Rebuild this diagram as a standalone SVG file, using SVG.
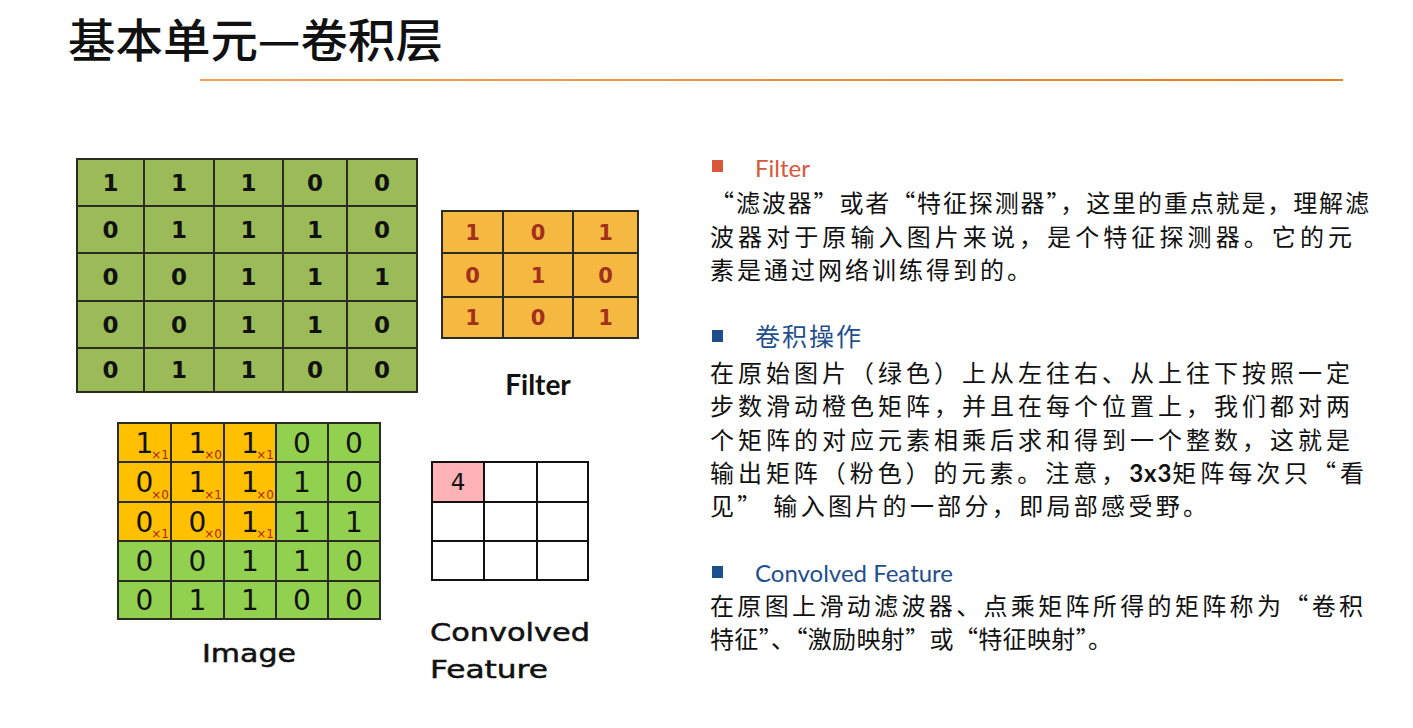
<svg xmlns="http://www.w3.org/2000/svg" width="1413" height="728" viewBox="0 0 1413 728">
<defs>
<linearGradient id="lg" gradientUnits="userSpaceOnUse" x1="200" y1="0" x2="1343" y2="0">
<stop offset="0" stop-color="#f0a35e"/>
<stop offset="1" stop-color="#ec7a1c"/>
</linearGradient>
</defs>
<style>
.cjk{font-family:"Noto Sans CJK SC","Noto Sans",sans-serif;fill:#111;}
.body{font-size:24px;letter-spacing:3px;}
.hdr{font-family:Lato,"Noto Sans CJK SC",sans-serif;font-size:24px;}
.gl{fill:none;stroke:#2b2b22;stroke-width:2;}
.d1{font-family:"DejaVu Sans",sans-serif;font-weight:bold;font-size:23px;fill:#111;text-anchor:middle;}
.d2{font-family:"DejaVu Sans",sans-serif;font-weight:bold;font-size:21px;fill:#a3301c;text-anchor:middle;}
.d3{font-family:"DejaVu Sans",sans-serif;font-size:28px;fill:#111;text-anchor:middle;}
.sub{font-family:"DejaVu Sans",sans-serif;font-size:12px;fill:#b0201a;text-anchor:end;}
.lbl{font-family:"DejaVu Sans",sans-serif;font-size:25px;fill:#111;stroke:#111;stroke-width:0.5;}
</style>
<rect width="1413" height="728" fill="#ffffff"/>

<g id="title">
<text class="cjk" x="68" y="57" font-size="46" font-weight="500" textLength="375" lengthAdjust="spacingAndGlyphs">基本单元—卷积层</text>
<rect x="200" y="79" width="1143" height="2" fill="url(#lg)"/>
</g>

<g id="image-grid">
<rect x="77" y="159" width="340" height="233" fill="#9bbb59"/>
<path class="gl" d="M77 159H417V392H77Z M144 159V392 M214 159V392 M283 159V392 M347 159V392 M77 206H417 M77 253H417 M77 301H417 M77 348H417"/>
<text class="d1" x="110.5" y="191">1</text><text class="d1" x="179" y="191">1</text><text class="d1" x="248.5" y="191">1</text><text class="d1" x="315" y="191">0</text><text class="d1" x="382" y="191">0</text>
<text class="d1" x="110.5" y="238">0</text><text class="d1" x="179" y="238">1</text><text class="d1" x="248.5" y="238">1</text><text class="d1" x="315" y="238">1</text><text class="d1" x="382" y="238">0</text>
<text class="d1" x="110.5" y="285">0</text><text class="d1" x="179" y="285">0</text><text class="d1" x="248.5" y="285">1</text><text class="d1" x="315" y="285">1</text><text class="d1" x="382" y="285">1</text>
<text class="d1" x="110.5" y="333">0</text><text class="d1" x="179" y="333">0</text><text class="d1" x="248.5" y="333">1</text><text class="d1" x="315" y="333">1</text><text class="d1" x="382" y="333">0</text>
<text class="d1" x="110.5" y="378">0</text><text class="d1" x="179" y="378">1</text><text class="d1" x="248.5" y="378">1</text><text class="d1" x="315" y="378">0</text><text class="d1" x="382" y="378">0</text>
</g>

<g id="filter">
<rect x="442" y="211" width="196" height="127" fill="#f5b942"/>
<path class="gl" d="M442 211H638V338H442Z M503 211V338 M573 211V338 M442 253H638 M442 297H638"/>
<text class="d2" x="472.5" y="240">1</text><text class="d2" x="538" y="240">0</text><text class="d2" x="605.5" y="240">1</text>
<text class="d2" x="472.5" y="283">0</text><text class="d2" x="538" y="283">1</text><text class="d2" x="605.5" y="283">0</text>
<text class="d2" x="472.5" y="325">1</text><text class="d2" x="538" y="325">0</text><text class="d2" x="605.5" y="325">1</text>
<text x="538" y="395" font-family="Lato,'Open Sans',sans-serif" font-weight="bold" font-size="28" fill="#111" text-anchor="middle">Filter</text>
</g>

<g id="image-conv">
<rect x="118" y="423" width="262" height="196" fill="#92d050"/>
<rect x="118" y="423" width="158" height="118" fill="#ffc000"/>
<path class="gl" d="M118 423H380V619H118Z M171 423V619 M224 423V619 M276 423V619 M328 423V619 M118 462H380 M118 502H380 M118 541H380 M118 581H380"/>
<text class="d3" x="144.5" y="452.5">1</text><text class="d3" x="197.5" y="452.5">1</text><text class="d3" x="250" y="452.5">1</text><text class="d3" x="302" y="452.5">0</text><text class="d3" x="354" y="452.5">0</text>
<text class="d3" x="144.5" y="492">0</text><text class="d3" x="197.5" y="492">1</text><text class="d3" x="250" y="492">1</text><text class="d3" x="302" y="492">1</text><text class="d3" x="354" y="492">0</text>
<text class="d3" x="144.5" y="531.5">0</text><text class="d3" x="197.5" y="531.5">0</text><text class="d3" x="250" y="531.5">1</text><text class="d3" x="302" y="531.5">1</text><text class="d3" x="354" y="531.5">1</text>
<text class="d3" x="144.5" y="571">0</text><text class="d3" x="197.5" y="571">0</text><text class="d3" x="250" y="571">1</text><text class="d3" x="302" y="571">1</text><text class="d3" x="354" y="571">0</text>
<text class="d3" x="144.5" y="610">0</text><text class="d3" x="197.5" y="610">1</text><text class="d3" x="250" y="610">1</text><text class="d3" x="302" y="610">0</text><text class="d3" x="354" y="610">0</text>
<text class="sub" x="169" y="459">×1</text><text class="sub" x="222" y="459">×0</text><text class="sub" x="274" y="459">×1</text>
<text class="sub" x="169" y="499">×0</text><text class="sub" x="222" y="499">×1</text><text class="sub" x="274" y="499">×0</text>
<text class="sub" x="169" y="538">×1</text><text class="sub" x="222" y="538">×0</text><text class="sub" x="274" y="538">×1</text>
<text class="lbl" x="202" y="662" textLength="94" lengthAdjust="spacingAndGlyphs">Image</text>
</g>

<g id="convolved">
<rect x="432" y="462" width="156" height="118" fill="#ffffff"/>
<rect x="432" y="462" width="52" height="40" fill="#ffb3b6"/>
<path fill="none" stroke="#111" stroke-width="2" d="M432 462H588V580H432Z M484 462V580 M537 462V580 M432 502H588 M432 541H588"/>
<text x="458" y="490" font-family="'DejaVu Sans',sans-serif" font-size="23" fill="#111" text-anchor="middle">4</text>
<text class="lbl" x="430" y="641" textLength="160" lengthAdjust="spacingAndGlyphs">Convolved</text>
<text class="lbl" x="430" y="678" textLength="118" lengthAdjust="spacingAndGlyphs">Feature</text>
</g>

<g id="text-filter">
<rect x="712" y="160" width="11" height="12" fill="#d9573b"/>
<text class="hdr" x="755" y="177" fill="#d9573b">Filter</text>
<text class="cjk body" x="710" y="212" textLength="662">“滤波器”或者“特征探测器”，这里的重点就是，理解滤</text>
<text class="cjk body" x="710" y="246" textLength="645">波器对于原输入图片来说，是个特征探测器。它的元</text>
<text class="cjk body" x="710" y="279">素是通过网络训练得到的。</text>
</g>

<g id="text-conv">
<rect x="712" y="330" width="11" height="12" fill="#1f4e8c"/>
<text x="755" y="346" font-family="'Noto Sans CJK SC',sans-serif" font-size="25" letter-spacing="2" fill="#1f4e8c">卷积操作</text>
<text class="cjk body" x="710" y="382" textLength="643">在原始图片（绿色）上从左往右、从上往下按照一定</text>
<text class="cjk body" x="710" y="415" textLength="643">步数滑动橙色矩阵，并且在每个位置上，我们都对两</text>
<text class="cjk body" x="710" y="449" textLength="643">个矩阵的对应元素相乘后求和得到一个整数，这就是</text>
<text class="cjk body" x="710" y="482" textLength="657">输出矩阵（粉色）的元素。注意，<tspan font-family="Lato,sans-serif" font-weight="bold" letter-spacing="0">3x3</tspan>矩阵每次只“看</text>
<text class="cjk body" x="710" y="515" textLength="500">见” 输入图片的一部分，即局部感受野。</text>
</g>

<g id="text-feature">
<rect x="712" y="566" width="11" height="12" fill="#1f4e8c"/>
<text class="hdr" x="755" y="582" fill="#1f4e8c">Convolved Feature</text>
<text class="cjk body" x="710" y="615" textLength="656">在原图上滑动滤波器、点乘矩阵所得的矩阵称为“卷积</text>
<text class="cjk body" x="710" y="648" textLength="405">特征”、“激励映射”或“特征映射”。</text>
</g>
</svg>
